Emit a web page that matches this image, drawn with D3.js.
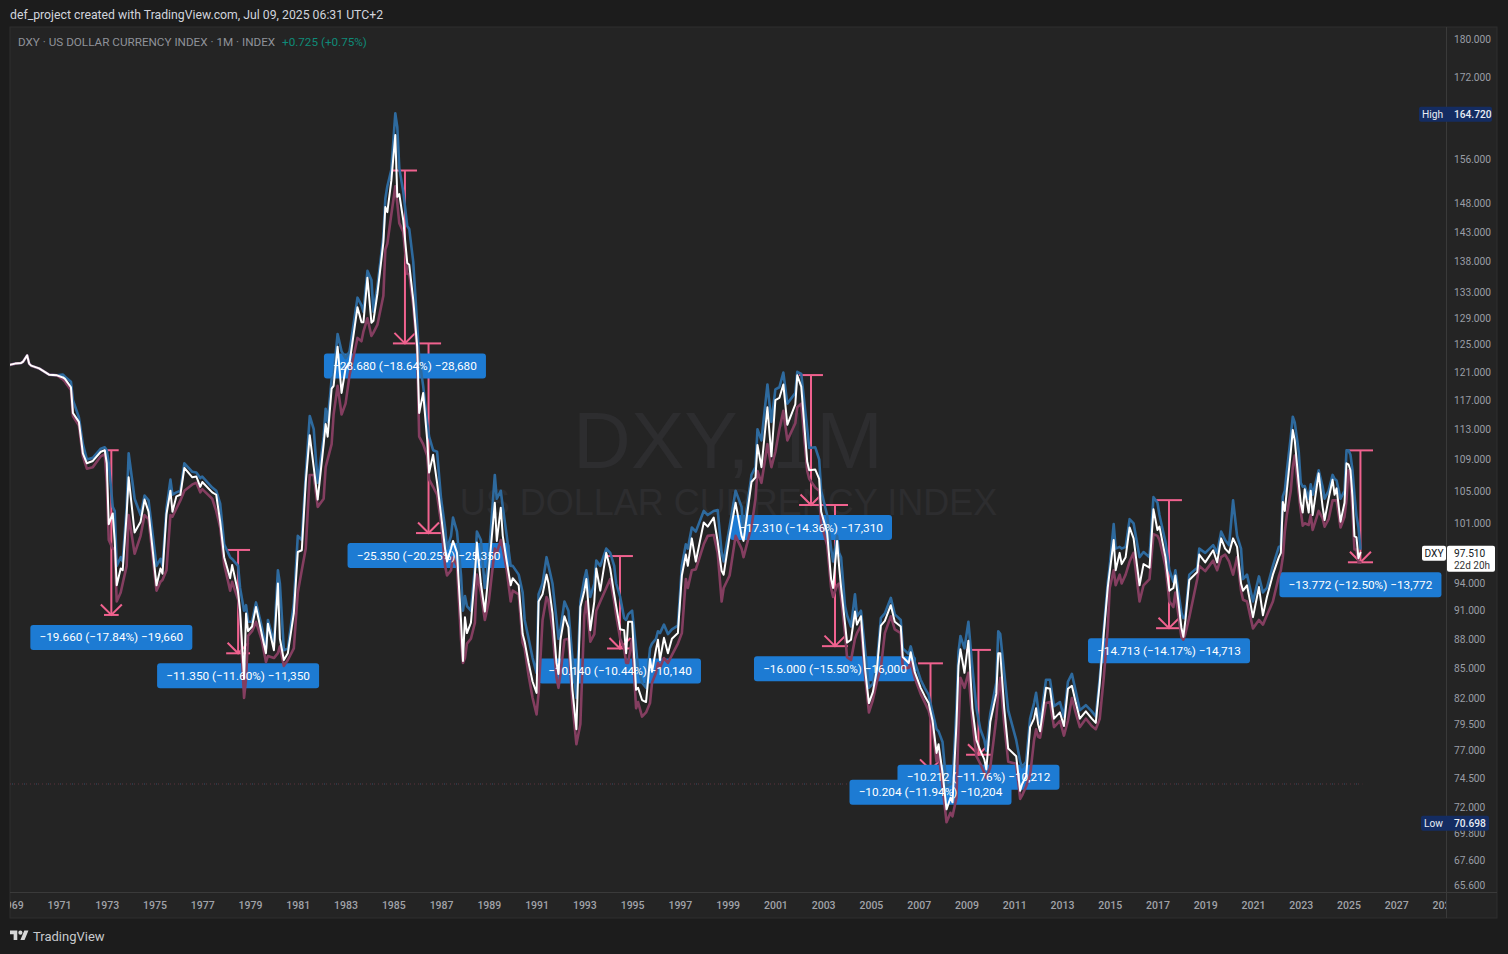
<!DOCTYPE html>
<html><head><meta charset="utf-8">
<script src="https://cdn.jsdelivr.net/npm/d3@7"></script>
<style>html,body{margin:0;padding:0;background:#1c1c1c;overflow:hidden}svg{display:block}text{font-family:Roboto,sans-serif}</style>
</head><body><svg id="c" width="1508" height="954"></svg>
<script>
// months counted from January 1971
const months=[
-25,-22,-19,-18,-16,-15,-14,-10,-5,-1,
2,3,6,7,10,12,14,17,21,23,
24,25,27,28,29,31,32,34,35,38,
41,43,45,49,51,52,54,56,57,59,
61,63,67,69,71,72,77,79,81,83,
86,87,90,91,93,94,95,97,99,102,
104,105,108,110,111,113,115,118,120,122,
124,126,128,130,133,134,135,137,138,140,
142,144,146,150,152,153,155,157,158,160,
163,164,165,167,169,170,171,173,175,176,
178,180,181,183,185,186,188,190,192,194,
195,197,198,200,202,203,204,205,207,209,
210,212,214,216,219,220,222,223,225,227,
228,231,233,234,236,238,240,241,243,245,
246,248,250,251,252,254,256,258,260,262,
264,265,267,269,270,272,275,277,279,280,
282,284,285,286,288,290,291,293,295,297,
298,300,301,302,304,306,308,311,313,315,
316,318,320,324,326,329,331,333,334,337,
340,343,344,348,350,351,353,356,358,360,
362,364,366,370,371,373,376,377,380,382,
383,386,388,389,391,392,393,395,396,398,
400,401,403,405,407,409,411,413,415,418,
420,423,424,427,428,430,433,435,437,439,
441,442,444,446,448,449,451,452,453,455,
457,459,461,463,465,466,468,471,472,473,
475,477,481,483,484,486,488,490,491,492,
493,496,498,500,503,505,507,509,511,513,
516,519,521,523,525,527,528,530,531,533,
534,536,538,540,543,545,548,550,552,553,
556,558,560,561,564,565,566,568,572,573,
576,580,582,584,586,588,590,592,594,595,
597,600,603,605,607,610,613,614,615,616,
617,619,620,621,623,624,625,626,628,629,
630,633,635,636,638,640,641,642,644,646,
647,648,649,650,651,652,653,654];
const closes=[
122,122.2,122.3,122.5,123.4,122.2,121.9,121.5,120.6,120.5,
120.2,120,118.8,115.2,114,109.8,108.5,108.8,110,110.2,
108.5,100.9,102.2,98.9,93.8,95.7,95.5,102.1,106.7,99.9,
101.2,103.9,102.4,93.8,95.7,95.1,102.1,105,102.4,104.3,
104.5,107.9,106.7,106.8,105.5,106.1,104.8,104.5,101.2,97,
94.6,96.1,93,91,83.9,90.7,88.8,89.3,91.4,88.4,
86.5,89.6,86.8,94,88,85.8,86.5,90.7,97.6,97.8,
106.1,112.2,108,103.9,111,113.7,112,118.6,119,124.7,
118,121.5,122.3,130.7,128.4,128.4,135.4,128.3,128.6,132.8,
141.2,147.3,146.4,152,160.5,149.1,149.6,145,137.8,137.5,
131.9,124.7,115.2,118,111.6,107.3,109.6,106,102,98,
96.5,98,98.9,97.5,90,85.7,90.3,88.6,89.7,95,
98.7,94,90.9,95.5,103.5,98.9,102.9,99.5,96.5,93.8,
94.6,93.8,88.5,87.7,85.5,83.6,82.5,92,92.8,95,
94,90.7,85.5,84.4,87.9,90.4,89.2,82.8,79,91.4,
93.2,94.5,88.9,92,95.7,93.2,97.5,95.7,92.8,91.5,
89,88.9,86.5,89.8,89.8,82.8,83,81.8,81.6,85.9,
84.6,86.9,87.9,85.8,88.1,86.5,88,88.6,94.9,97.3,
96,99.2,96.5,101.1,100.6,101.7,98.8,95.4,95,99.5,
103.5,99.5,98.9,106.1,106.7,110.9,108,116,109.4,117,
117.3,119.2,113.6,116.4,120.5,118.9,108.7,107.6,107.7,106.5,
102.4,99.9,94.5,93.5,98.9,96,93.6,89.6,87.6,87.9,
90.9,89.5,90.4,85,81.5,82.6,84.8,89.4,89.9,91.6,
89.8,89.3,86.1,85.5,86.6,84.6,83,82.2,81.5,79.8,
76.8,77.6,75,71.8,72.8,72.4,79.5,85.2,86.9,84.5,
87.8,81,78,77,76.2,75.3,79.7,82.4,86.5,86.5,
81,77.2,76.5,73.4,74,74.7,79.2,80,81,79.5,
78.8,83,82.9,80,80.6,79.3,82.9,83.2,81.5,80,
80.7,80,79.6,83.5,88.5,93.5,95.3,99,95.5,97.5,
96.2,97,100.5,99.2,93.8,96.2,95.8,102.7,100.2,100.6,
97,93.2,93.5,94.9,89.2,88.2,89.9,94.4,95.3,97.3,
96.4,97.8,96.4,99.2,98,97.5,99.2,98.2,94,93.2,
93.8,90.3,93.6,90.5,92.5,95,97,97.5,103.6,102.5,
105,110,112.9,111.5,105.9,103.5,102.3,105.2,102.3,105,
102,107.2,103,101.4,104,106.4,104.5,105.3,101.2,103.5,
108.5,108.37,107.6,104.2,99.47,99.33,96.88,97.51];
const highs=[
122,122.2,122.3,122.5,123.4,122.2,121.9,121.5,120.6,120.5,
120.6,120.3,119.6,117,114.6,111,109,109.2,110.4,110.6,
110.2,108.5,103,102.5,96,97,96.5,103,109.8,104,
102,104.4,103.8,96,96.8,96,102.8,106.4,104.5,104.8,
105,108.5,107.4,107.3,106.6,106.8,105.4,105,103.4,98.5,
97,96.8,96,93.5,91,91.6,89.8,89.8,91.9,89.2,
87,90,87.6,95.5,94,86.8,87,91.8,99.5,99,
107,114.8,113,106,112,115.8,114,120,120.4,126.6,
124,123,124,132.2,131,130,136.5,135,130,134,
142.2,148.8,151,154,164.72,162,154.3,150,144,143.5,
138,128,123,119,114,112,110.2,110,104,100.5,
98,99.5,101.7,100,95,91,92.6,91.5,91,95.8,
100,99,93.5,97,107,104,105,103,99.5,96,
96,95,93,90,88,86,84.5,92.8,94,97,
96,94,90,88,89,92,91,86,82,92,
94.5,95.5,92.5,94,96.6,96,98,97.5,96,94,
92.5,90.2,90,90.6,91,87,85,83.5,83,87,
87.5,88,88.8,88.6,89.5,88.5,89,89.4,96,98.5,
98,100.5,100,102.5,102,102.5,102.6,97.5,96.5,100.6,
105,103,100,107,108,113,111.5,119.2,114,118.5,
118.8,120.9,116.5,118,121,120.7,113,110.5,110.6,109,
105,102,98,96.5,99.5,97.5,97,91.5,90.5,89.3,
92.8,90.4,91,87,83,83.4,85.4,90.2,90.7,92.4,
90.6,90,87,86.4,87.2,85.6,83.8,83,82.3,80.6,
79,78.8,77.8,73.8,74,74,81,86.6,88.3,87,
89.8,85,81,79,78,77,80.5,83.5,88.8,88.5,
84.5,80.8,78,76,75.5,76,80,81.5,82.5,81,
79.6,83.8,83.8,81.2,81.6,80.2,83.6,84.4,82.6,80.8,
81.3,80.7,80.2,84,89,94,96,100.9,98,98.2,
98,98.2,101.5,101,97,97.6,97,104.2,103.5,102,
98.8,95.5,94.2,95.5,90.8,90.2,90.4,95,95.8,98,
97.5,98.4,97.5,100,99,98.4,103.8,99.5,98,94.5,
95,92,94.8,93,93.5,96,98.2,98.3,104.3,105,
107.5,112,114.7,113.9,110,106,105.5,105.6,104,105.8,
104.5,107.6,105.5,104,105,107,106.5,106.3,104,105,
110.18,110.18,109.6,107.6,104.5,101.9,100.5,98];
const lows=[
122,122.2,122.3,122.5,123.4,122.2,121.9,121.5,120.6,120.5,
119.9,119.6,118.4,114.8,113.5,109.4,107.8,108,109.4,109.7,
106,99,98,98,92,93,94,96,102,97.4,
99.5,102,101.5,93.2,94.2,94.4,95.5,102,101.8,102.8,
103.8,105,105.8,106,104.8,105.2,104,102.5,100.5,96.2,
93.2,94.2,92.2,90,82,83.9,88.3,88.8,89.8,87.8,
85.6,86.2,86,86.5,87.2,85.2,85.8,87,93,95.5,
98,107,107,103,104,108,109,111,115,119,
115,116.5,120.5,126,125.5,127,129,126.3,126.8,128,
132.5,140,141,146,151,148,144.5,143,136,136,
131,124,112,111,109.5,106.4,105.5,104.5,101,96,
94.9,95.5,97,96,88,85.5,86,87.5,88,89.7,
95,93,90,92,98,97.5,99,98,95.5,92,
93.2,92.8,87.6,87,84.2,82,80.4,82.5,90,92.5,
92,89,84,83,84.4,87.9,88,81.5,77.6,79.5,
90.5,92,87.7,88.5,91,92,93.5,94.5,92,90.5,
88,87,85.5,85.5,88,81,81.6,80.2,80.6,81.5,
83.5,84.5,85.5,85,86,85.5,86.3,87.5,88.6,94.5,
93.5,95.5,95.6,98.5,99.5,99.6,97.5,92,93.5,94.9,
99.5,98,97,100.6,104,107.5,106,111,108,110,
113,115.5,111.5,113.8,116,116.5,107.5,106.5,105.4,105,
101,98.4,93.5,92.5,93.8,94,92.5,88.5,86.1,85.8,
88,88.6,89.4,84.4,80.6,81.8,83.6,85,88.6,90.4,
89,88.6,85,85,85.6,84,82.4,81.6,80.8,79.2,
76,76.8,73.8,70.7,71.5,71.2,72.8,79,84,83,
84.5,79.8,76.5,75.8,75,74.5,75.5,80,82.5,84,
79.5,76,75.8,72.7,73,73.8,74.8,78,79,78.3,
78.2,81.5,81.6,79.2,79.8,78.4,79.8,82,80.5,79.2,
80,79.3,79,80,84,89,93.5,95.5,93.8,95,
94,95,96.5,97.5,92,93.8,94.5,99.7,99.5,99,
96,92,91.4,93,88.2,87.9,88.5,90.3,94.5,96,
95.4,96.6,95.5,97,97.3,96.5,95,97,93.2,92.2,
92,89.1,90,89.5,90.5,92,94.8,95.5,97,100,
102,105,108,109.5,104.7,102.5,100.7,101,100.8,102,
100.2,102.5,101.6,100.6,101.5,103.8,103.8,103.8,100.5,101.8,
103.9,107.6,106.5,102.5,97.9,97.9,96.4,96.4];

const priceTicks=[180,172,156,148,143,138,133,129,125,121,117,113,109,105,101,94,91,88,85,82,79.5,77,74.5,72,69.8,67.6,65.6];
const yearTicks=[1969,1971,1973,1975,1977,1979,1981,1983,1985,1987,1989,1991,1993,1995,1997,1999,2001,2003,2005,2007,2009,2011,2013,2015,2017,2019,2021,2023,2025,2027,2029];

const measureStart=[22.6,84,167.8,179.4,275.4,371.9,383.4,455.8,431.7,551.3,647.7];
const measureEnd=[30,96,179.9,192,288.4,383.9,396.5,468.3,444.2,564.3,660.3];
const measureTop=[110.2,97.84,153.86,125.18,97.13,120.54,103.23,86.84,85.46,103.83,110.18];
const measureBottom=[90.54,86.49,125.18,99.83,86.99,103.23,87.23,76.63,75.26,89.12,96.41];
const measureLabels=["−19.660 (−17.84%) −19,660","−11.350 (−11.60%) −11,350","−28.680 (−18.64%) −28,680","−25.350 (−20.25%) −25,350","−10.140 (−10.44%) −10,140","−17.310 (−14.36%) −17,310","−16.000 (−15.50%) −16,000","−10.212 (−11.76%) −10,212","−10.204 (−11.94%) −10,204","−14.713 (−14.17%) −14,713","−13.772 (−12.50%) −13,772"];

const baselineValue=74.0, baselineEndMonth=655;
const highValue=164.72, lowValue=70.698, lastValue=97.51;

const svg=d3.select("#c");
const P={l:10,t:27,r:1446,b:892,R:1497,B:918};
const x=d3.scaleLinear().domain([0,648]).range([59,1348.5]);
const y=d3.scaleLog().domain([180,65.6]).range([39,885]);

svg.append("rect").attr("width",1508).attr("height",954).attr("fill","#1c1c1c");
svg.append("rect").attr("x",P.l).attr("y",P.t).attr("width",P.R-P.l).attr("height",P.B-P.t).attr("fill","#242424").attr("stroke","#2e2e2e").attr("stroke-width",1);
svg.append("line").attr("x1",P.r+.5).attr("x2",P.r+.5).attr("y1",P.t).attr("y2",P.B).attr("stroke","#3a3a3a");
svg.append("line").attr("x1",P.l).attr("x2",P.R).attr("y1",P.b+.5).attr("y2",P.b+.5).attr("stroke","#3a3a3a");

const defs=svg.append("defs");
defs.append("clipPath").attr("id","pane").append("rect").attr("x",P.l).attr("y",P.t).attr("width",P.r-P.l).attr("height",P.b-P.t);
defs.append("clipPath").attr("id","timeclip").append("rect").attr("x",P.l).attr("y",P.b).attr("width",P.r-P.l).attr("height",P.B-P.b);

// watermark
svg.append("text").attr("x",728).attr("y",468).attr("text-anchor","middle").attr("font-size",80).attr("fill","#2d2d2f").style("font-family","'Liberation Sans'").text("DXY, 1M");
svg.append("text").attr("x",728.5).attr("y",515).attr("text-anchor","middle").attr("font-size",36).attr("fill","#2d2d2f").style("font-family","'Liberation Sans'").text("US DOLLAR CURRENCY INDEX");

const pane=svg.append("g").attr("clip-path","url(#pane)");
pane.append("line").attr("x1",P.l).attr("x2",x(baselineEndMonth)).attr("y1",y(baselineValue)).attr("y2",y(baselineValue)).attr("stroke","#5c323c").attr("stroke-dasharray","1 3");
pane.append("line").attr("x1",P.l+2).attr("x2",x(baselineEndMonth)).attr("y1",y(baselineValue)).attr("y2",y(baselineValue)).attr("stroke","#33506b").attr("stroke-dasharray","1 11");

// measure lines under the series
const pink="#f0628f";
const mg=pane.append("g").attr("stroke",pink).attr("stroke-width",2).attr("fill","none");
measureStart.forEach((s,i)=>{
  const x0=x(s),x1=x(measureEnd[i]),cx=(x0+x1)/2,yt=y(measureTop[i]),yb=y(measureBottom[i]);
  mg.append("line").attr("x1",x0).attr("x2",x1).attr("y1",yt).attr("y2",yt);
  mg.append("line").attr("x1",x0).attr("x2",x1).attr("y1",yb).attr("y2",yb);
  mg.append("line").attr("x1",cx).attr("x2",cx).attr("y1",yt).attr("y2",yb);
  mg.append("path").attr("d",`M${cx-10.5},${yb-10.5}L${cx},${yb}L${cx+10.5},${yb-10.5}`);
});
// label boxes under the series
measureStart.forEach((s,i)=>{
  const cx=(x(s)+x(measureEnd[i]))/2,yb=y(measureBottom[i]);
  svg.append("rect").attr("x",cx-81).attr("y",yb+10).attr("width",162).attr("height",25).attr("rx",3).attr("fill","#1d7bd3");
});

const over=svg.append("g").attr("clip-path","url(#pane)");
const line=vals=>d3.line().x((d,i)=>x(months[i])).y(d=>y(d)).curve(d3.curveLinear)(vals);
const seriesStyle=(p,c,w)=>p.attr("fill","none").attr("stroke",c).attr("stroke-width",w).attr("stroke-linejoin","round").attr("stroke-linecap","round");
seriesStyle(over.append("path").attr("d",line(highs)),"#2e6a9e",2.6);
seriesStyle(over.append("path").attr("d",line(lows)),"#843e60",2.6);
seriesStyle(over.append("path").attr("d",line(closes)),"#ffffff",2);

measureStart.forEach((s,i)=>{
  const cx=(x(s)+x(measureEnd[i]))/2,yb=y(measureBottom[i]);
  svg.append("text").attr("x",cx).attr("y",yb+26.5).attr("text-anchor","middle").attr("font-size",11.75).attr("fill","#fff").text(measureLabels[i]);
});

// price axis
const ya=svg.append("g").attr("transform",`translate(${P.r},0)`).call(d3.axisRight(y).tickValues(priceTicks).tickFormat(d3.format(".3f")).tickSize(0).tickPadding(8));
ya.select(".domain").remove();
ya.selectAll("text").attr("font-size",10.2).attr("fill","#9a9ea6").style("font-family","Roboto");

// time axis
const xa=svg.append("g").attr("clip-path","url(#timeclip)").append("g").attr("transform",`translate(0,${P.b})`)
 .call(d3.axisBottom(x).tickValues(yearTicks.map(v=>(v-1971)*12)).tickFormat(d=>String(1971+d/12)).tickSize(0).tickPadding(10));
xa.select(".domain").remove();
xa.selectAll("text").attr("font-size",10.5).attr("font-weight",500).attr("fill","#a0a2a8").style("font-family","Roboto");

// High / Low tags
function tag(v,name,x0,x1){
  const yy=y(v)+1;
  svg.append("rect").attr("x",x0).attr("y",yy-7.5).attr("width",x1-x0).attr("height",15).attr("rx",2).attr("fill","#142c62");
  svg.append("text").attr("x",1443).attr("y",yy+3.8).attr("text-anchor","end").attr("font-size",10.2).attr("fill","#e8ecf4").text(name);
  svg.append("text").attr("x",1454).attr("y",yy+3.8).attr("font-size",10.2).attr("font-weight",500).attr("fill","#e8ecf4").text(d3.format(".3f")(v));
}
tag(highValue,"High",1419,1492);
tag(lowValue,"Low",1421,1489);

// last price tag
const ly=y(lastValue);
svg.append("rect").attr("x",1422).attr("y",ly-7).attr("width",24).attr("height",15).attr("rx",2).attr("fill","#fff");
svg.append("text").attr("x",1434).attr("y",ly+4).attr("text-anchor","middle").attr("font-size",10.2).attr("fill","#131722").text("DXY");
svg.append("rect").attr("x",1447).attr("y",ly-7).attr("width",48).attr("height",26).attr("rx",2).attr("fill","#fff");
svg.append("text").attr("x",1454).attr("y",ly+4).attr("font-size",10.2).attr("fill","#131722").text(d3.format(".3f")(lastValue));
svg.append("text").attr("x",1454).attr("y",ly+16).attr("font-size",10).attr("fill","#333").text("22d 20h");

// header and legend
svg.append("text").attr("x",10).attr("y",19).attr("font-size",12.25).attr("fill","#d1d4dc").text("def_project created with TradingView.com, Jul 09, 2025 06:31 UTC+2");
svg.append("text").attr("x",18).attr("y",46).attr("font-size",11.7).attr("fill","#8f9299").text("DXY · US DOLLAR CURRENCY INDEX · 1M · INDEX");
svg.append("text").attr("x",282).attr("y",46).attr("font-size",11.7).attr("fill","#0f8a78").text("+0.725 (+0.75%)");

// logo
const logo=svg.append("g").attr("transform","translate(10,928.5) scale(.52)").attr("fill","#d8d8d8");
logo.append("path").attr("d","M14 22H7V11H0V4h14v18zM28 22h-8l7.5-18h8L28 22z");
logo.append("circle").attr("cx",20).attr("cy",8).attr("r",4);
svg.append("text").attr("x",33).attr("y",941).attr("font-size",13).attr("fill","#c8cacc").text("TradingView");
</script></body></html>
